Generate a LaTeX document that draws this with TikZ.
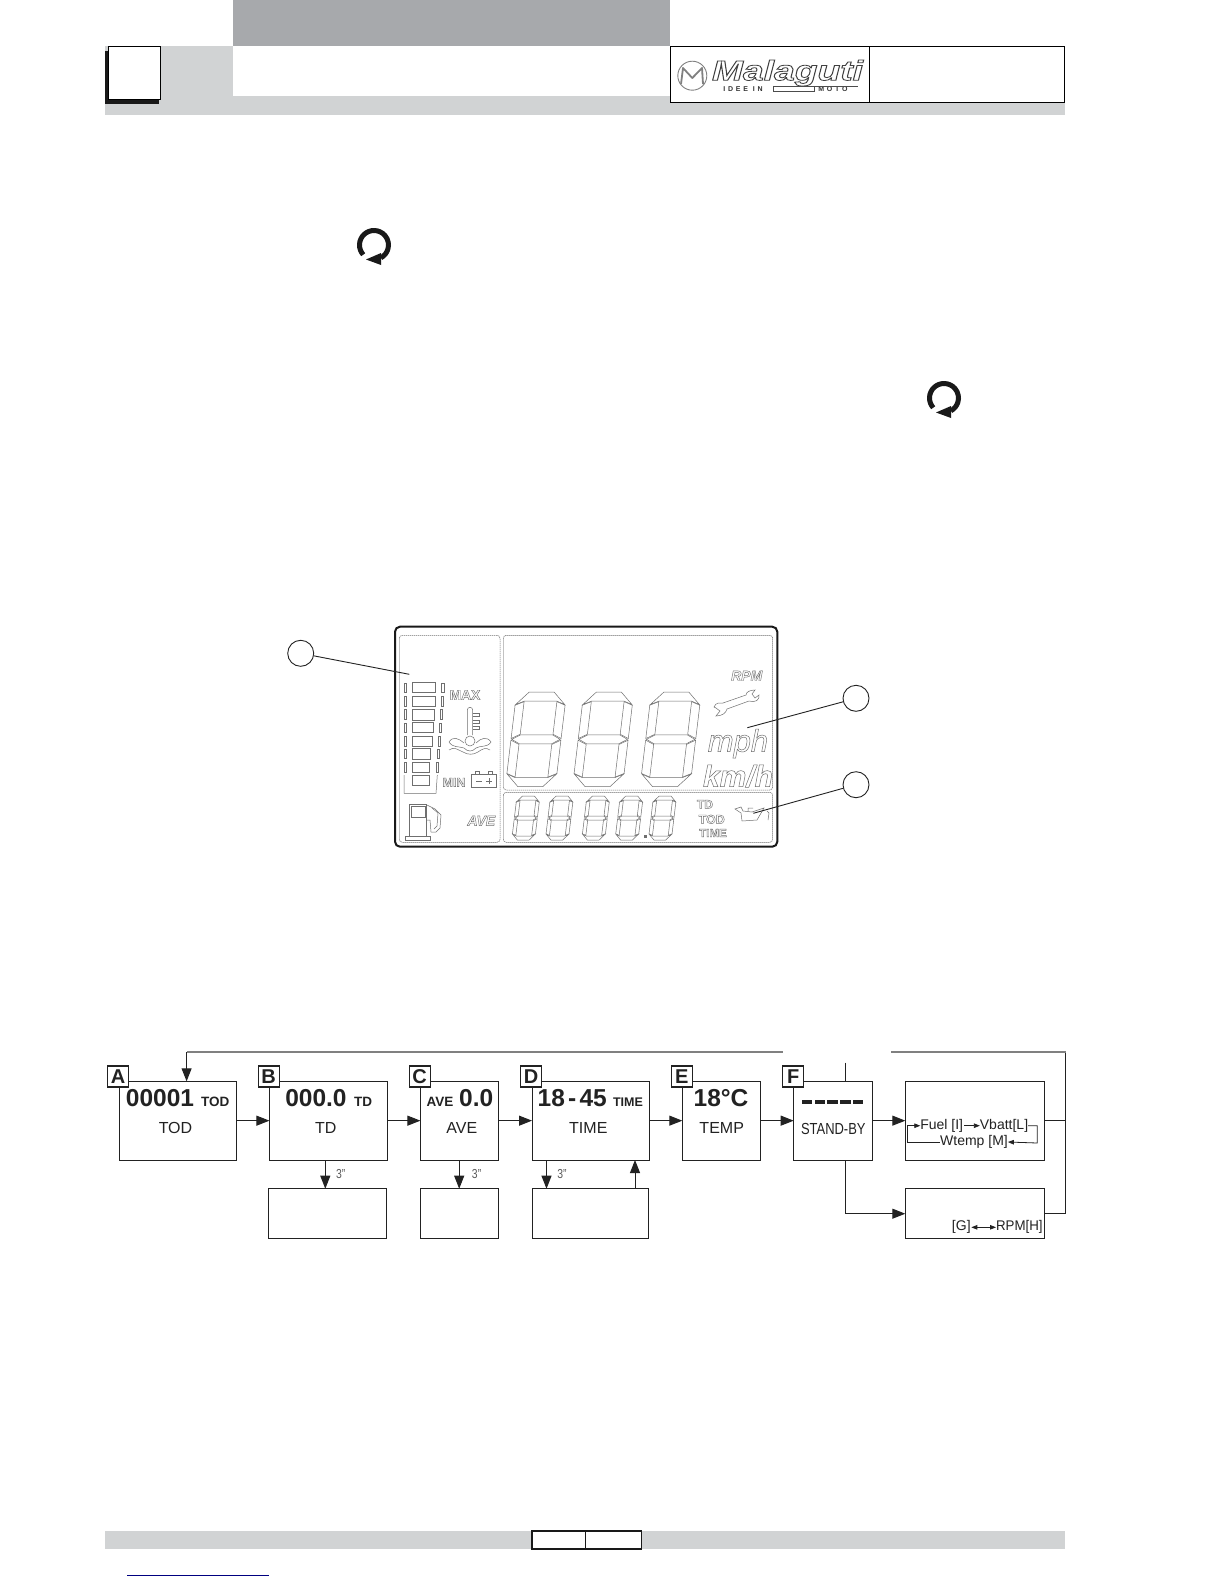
\documentclass[tikz,border=0pt]{standalone}
\usepackage{fontspec}
\setmainfont{Liberation Sans}
\usetikzlibrary{arrows.meta,calc}
\definecolor{hdark}{HTML}{A7A9AC}
\definecolor{hlight}{HTML}{D1D3D4}
\definecolor{ink}{HTML}{222222}
\definecolor{lcdline}{HTML}{6F6F6F}
\newcommand\fsz[1]{\fontsize{#1}{#1}\selectfont}
\newcommand\hollow[2][0.45]{\special{pdf:literal direct 1 Tr #1 w}#2\special{pdf:literal direct 0 Tr}}
\tikzset{
  flowbox/.style={draw=ink,line width=1pt,fill=white,inner sep=0pt,outer sep=0pt},
  tagbox/.style={draw=ink,line width=1.2pt,fill=white,inner sep=0pt,outer sep=0pt,minimum width=21pt,minimum height=21pt,font=\fsz{20}\bfseries,text=ink},
  conn/.style={draw=ink,line width=1pt,-{Triangle[length=13pt,width=10pt]}},
  plainconn/.style={draw=ink,line width=1pt},
  tinyconn/.style={draw=ink,line width=.8pt,-{Triangle[length=6pt,width=4.5pt]}},
  toprun/.style={draw=black!50,line width=1.8pt},
  bigval/.style={inner sep=0pt,outer sep=0pt,anchor=base west,font=\fsz{24.5}\bfseries,text=ink},
  smallval/.style={inner sep=0pt,outer sep=0pt,anchor=base west,font=\fsz{13.5}\bfseries,text=ink},
  boxname/.style={inner sep=0pt,outer sep=0pt,font=\fsz{16},text=ink},
  tinytxt/.style={inner sep=0pt,outer sep=0pt,font=\fsz{14},text=ink},
  secs/.style={inner sep=0pt,outer sep=0pt,font=\fsz{13},text=black!65,xscale=.8,transform shape},
  lcd/.style={draw=lcdline,line width=.5pt},
  lcdpanel/.style={draw=lcdline,line width=.5pt,dash pattern=on 1.4pt off .6pt,rounded corners=3pt},
  lcdtxt/.style={inner sep=0pt,outer sep=0pt,text=lcdline},
  callout/.style={draw=ink,line width=.9pt,fill=white,circle,inner sep=0pt,outer sep=0pt,minimum size=26pt},
  leader/.style={draw=ink,line width=.9pt},
}
\newcommand\lcddigit[5]{%
\begin{scope}[shift={(#1,#2)},xslant=.12,lcd]
\pgfmathsetmacro\W{#3}\pgfmathsetmacro\H{#4}\pgfmathsetmacro\T{#5}\pgfmathsetmacro\M{#4/2}\pgfmathsetmacro\C{1.4*#5}
\draw (\C,-\H)--(\W-\C,-\H)--(\W-.4,-\H+\C)--(\W-\T,-\H+\T)--(\T,-\H+\T)--(.4,-\H+\C)--cycle;
\draw (\C,0)--(\W-\C,0)--(\W-.4,-\C)--(\W-\T,-\T)--(\T,-\T)--(.4,-\C)--cycle;
\draw (.8,-\M)--(\T,-\M-.5*\T)--(\W-\T,-\M-.5*\T)--(\W-.8,-\M)--(\W-\T,-\M+.5*\T)--(\T,-\M+.5*\T)--cycle;
\draw (0,-\H+\C+.6)--(\T-.4,-\H+\T+.6)--(\T-.4,-\M-.5*\T-.6)--(0,-\M-.8)--cycle;
\draw (\W,-\H+\C+.6)--(\W-\T+.4,-\H+\T+.6)--(\W-\T+.4,-\M-.5*\T-.6)--(\W,-\M-.8)--cycle;
\draw (0,-\C-.6)--(\T-.4,-\T-.6)--(\T-.4,-\M+.5*\T+.6)--(0,-\M+.8)--cycle;
\draw (\W,-\C-.6)--(\W-\T+.4,-\T-.6)--(\W-\T+.4,-\M+.5*\T+.6)--(\W,-\M+.8)--cycle;
\end{scope}}
\newcommand\refreshicon[2]{%
\begin{scope}[shift={(#1,#2)},y=1pt]
\draw[line width=5pt,color=black!90] (222:14.5pt) arc[start angle=222,end angle=-62,radius=14.5pt];
\fill[black!90] (-8,-14.5) -- (7,-8) -- (7,-20) -- cycle;
\end{scope}}
\begin{document}
\begin{tikzpicture}[x=1pt,y=-1pt]
\useasboundingbox (0,0) rectangle (1224,1584);
\fill[white] (0,0) rectangle (1224,1584);
% header
\fill[hlight] (105.3,46) rectangle (1065,115);
\fill[hdark] (233,0) rectangle (669.7,46);
\fill[white] (233,46) rectangle (669.7,96);
\fill[black!90] (105.3,51) rectangle (159,104);
\draw[fill=white,draw=black,line width=.9pt] (108.5,46.3) rectangle (160.2,99.3);
\draw[fill=white,draw=black,line width=1.1pt] (670.3,46.3) rectangle (869.3,102.3);
\draw[fill=white,draw=black,line width=1.1pt] (869.3,46.3) rectangle (1064.5,102.3);
% logo
\draw[black!50,line width=.9pt] (692.3,75.7) circle[radius=14.5pt];
\draw[black!50,line width=1.8pt,line join=round] (681,84) -- (683,68) -- (692.3,78) -- (702,68) -- (703,84);
\node[inner sep=0pt,outer sep=0pt,font=\fsz{28}\bfseries\itshape,text=black!75,xscale=1.33,transform shape] (logotext) at (787.5,73) {\hollow[0.8]{Malaguti}};
\node[inner sep=0pt,outer sep=0pt,anchor=west,font=\fsz{7}\bfseries,text=black!80] (logoidee) at (723.3,89.5) {\addfontfeature{LetterSpace=40}IDEE IN};
\node[inner sep=0pt,outer sep=0pt,anchor=west,font=\fsz{7}\bfseries,text=black!80] (logomoto) at (818.3,89.5) {\addfontfeature{LetterSpace=40}MOTO};
\draw[black!70,line width=.6pt] (773,86) -- (858,86) (773,86) -- (773,91.5) -- (814,91.5) -- (814,86);
% refresh icons
\refreshicon{374}{245}
\refreshicon{944}{398}
% LCD
\draw[draw=black!90,line width=2pt,rounded corners=5pt] (395,626.7) rectangle (777.3,846.7);
\draw[lcdpanel] (399.3,635.3) rectangle (500,842.3);
\draw[lcdpanel] (503.3,635.3) rectangle (772.7,790);
\draw[lcdpanel] (503.3,792.3) rectangle (772.7,842.3);
\lcddigit{505.3}{786.7}{50}{94.7}{9}
\lcddigit{572.5}{786.7}{50}{94.7}{9}
\lcddigit{640}{786.7}{50}{94.7}{9}
\lcddigit{511.7}{840}{23}{44}{4}
\lcddigit{545.3}{840}{23}{44}{4}
\lcddigit{581.7}{840}{23}{44}{4}
\lcddigit{615}{840}{23}{44}{4}
\lcddigit{648.3}{840}{23}{44}{4}
\fill[lcdline] (643.5,834.5) rectangle (646.5,838);
% bar graph
\draw[lcd] (412,682.7) rectangle (435.7,692.7) (412,696) rectangle (435,706.7) (412,709.3) rectangle (434,720)
 (412,722.7) rectangle (433,732.7) (412,736) rectangle (432,746) (412,748.7) rectangle (430.7,759)
 (412,762) rectangle (429.7,772.3) (412,775) rectangle (429,785.7);
\draw[lcd] (404,683) rectangle (406,692) (404,696) rectangle (406,706) (404,709.5) rectangle (406,719.5)
 (404,723) rectangle (406,732.5) (404,736) rectangle (406,746) (404,749) rectangle (406,758.5) (404,762) rectangle (406,772);
\draw[lcd] (441.5,683) rectangle (444,692) (441,696) rectangle (443,706) (440,709.5) rectangle (442,719.5)
 (439.5,723) rectangle (441.5,732.5) (438.5,736) rectangle (440.5,746) (437.5,749) rectangle (439.5,758.5) (436.5,762) rectangle (438.5,772);
\draw[lcd] (404,775) -- (404,793.3) -- (436,793.3) -- (437.3,775);
\node[lcdtxt,font=\fsz{13.8}\bfseries] (lmax) at (465,695) {\hollow{MAX}};
\node[lcdtxt,font=\fsz{12.5}\bfseries] (lmin) at (454,782.3) {\hollow{MIN}};
\node[lcdtxt,font=\fsz{14}\bfseries\itshape] (lave) at (481.3,820.7) {\hollow{AVE}};
% thermometer and waves
\draw[lcd] (467.3,735) -- (467.3,710) arc[start angle=180,end angle=0,radius=2.7pt] -- (472.7,735);
\draw[lcd] (472.7,713) -- (479,713) -- (479,716) -- (472.7,716) (472.7,720) -- (479,720) -- (479,723) -- (472.7,723) (472.7,726) -- (479,726) -- (479,729) -- (472.7,729);
\draw[lcd] (470,741) circle[radius=5pt];
\draw[lcd] (449,742) .. controls (453,736) and (458,738) .. (464,743) (449,742) .. controls (453,748) and (458,746) .. (464,748) .. controls (468,752) and (472,752) .. (476,748) .. controls (481,745) and (487,748) .. (491,742) .. controls (487,736) and (481,738) .. (476,743);
\draw[lcd] (449,750) .. controls (454,746) and (458,750) .. (463,752) .. controls (468,755) and (473,755) .. (478,752) .. controls (482,749) and (486,747) .. (490,750);
% battery
\draw[lcd] (471.7,774) rectangle (496.7,787.7);
\draw[lcd] (475,774) -- (475,771.7) -- (479,771.7) -- (479,774) (488,774) -- (488,771.7) -- (492,771.7) -- (492,774);
\draw[lcd] (476,781) -- (482,781) (486,781) -- (492,781) (489,778) -- (489,784);
% fuel pump
\draw[lcd] (409.3,836.7) -- (409.3,804) -- (426.7,804) -- (426.7,836.7);
\draw[lcd] (411,806) rectangle (425,817);
\draw[lcd] (405,840) rectangle (430,836.7);
\draw[lcd] (427,805) -- (435,809) -- (441,815) -- (440,828) -- (436,832) -- (431,832) -- (430,820) -- (427,820);
\draw[lcd] (432,808) -- (438,813) -- (437,826) -- (434,829);
% right side symbols
\node[lcdtxt,font=\fsz{14}\bfseries\itshape] (lrpm) at (746.7,675.7) {\hollow{RPM}};
\draw[lcd] (714,707) .. controls (716,702) and (720,703) .. (723,703) -- (746,695) .. controls (746,692) and (750,690) .. (755,690) -- (752,694) -- (755,698) -- (759,695) .. controls (760,700) and (755,703) .. (749,701) -- (727,709) .. controls (726,713) and (722,716) .. (716,716) -- (720,711) -- (716,708) -- cycle;
\node[lcdtxt,anchor=base,font=\fsz{31}\itshape] (lmph) at (738,751.7) {\hollow[0.5]{mph}};
\node[lcdtxt,anchor=base,font=\fsz{30}\itshape\bfseries] (lkmh) at (738,786.7) {\hollow[0.5]{km/h}};
\node[lcdtxt,font=\fsz{12}\bfseries] (ltd) at (705,804.3) {\hollow{TD}};
\node[lcdtxt,font=\fsz{12.5}\bfseries] (ltod) at (711.7,819.3) {\hollow{TOD}};
\node[lcdtxt,font=\fsz{11.5}\bfseries] (ltime) at (713,833) {\hollow{TIME}};
\draw[lcd] (735,809) -- (741,807) -- (743,811) -- (752,812) -- (764,808) -- (757,820) -- (742,821) -- (741,813) -- cycle;
\draw[lcd] (748,811) -- (748,808) -- (753,808) (767,811) -- (769,813) -- (768,820);
% callouts
\node[callout] (c1) at (300.7,653.3) {};
\node[callout] (c2) at (856,698.3) {};
\node[callout] (c3) at (856,784.7) {};
\coordinate (c1end) at (409.3,674.3);
\coordinate (c2end) at (747.3,727.7);
\coordinate (c3end) at (753.3,813.3);
\draw[leader] (c1) -- (c1end);
\draw[leader] (c2) -- (c2end);
\draw[leader] (c3) -- (c3end);
% flow boxes
\def\tr{1120.65}
\node[flowbox,minimum width=117.3pt,minimum height=78.7pt] (a) at (177.85,\tr) {};
\node[flowbox,minimum width=117.6pt,minimum height=78.7pt] (b) at (328.2,\tr) {};
\node[flowbox,minimum width=78.4pt,minimum height=78.7pt] (c) at (459.6,\tr) {};
\node[flowbox,minimum width=117.4pt,minimum height=78.7pt] (d) at (590.7,\tr) {};
\node[flowbox,minimum width=78pt,minimum height=78.7pt] (e) at (721.3,\tr) {};
\node[flowbox,minimum width=78.3pt,minimum height=78.7pt] (f) at (832.85,\tr) {};
\node[flowbox,minimum width=138.7pt,minimum height=78.7pt] (g) at (974.65,\tr) {};
\def\lr{1213.7}
\node[flowbox,minimum width=117.7pt,minimum height=50pt] (bl) at (327.15,\lr) {};
\node[flowbox,minimum width=78pt,minimum height=50pt] (cl) at (459.4,\lr) {};
\node[flowbox,minimum width=115.8pt,minimum height=50pt] (dl) at (590.7,\lr) {};
\node[flowbox,minimum width=138.7pt,minimum height=50pt] (h) at (974.65,\lr) {};
% tags
\node[tagbox] (ta) at (118.2,1076.5) {A};
\node[tagbox] (tb) at (268.7,1076.5) {B};
\node[tagbox] (tc) at (419.7,1076.5) {C};
\node[tagbox] (td) at (531,1076.5) {D};
\node[tagbox] (te) at (681.7,1076.5) {E};
\node[tagbox] (tf) at (793.2,1076.5) {F};
% texts
\node[bigval] (va) at (125.9,1106) {00001};
\node[smallval] (vas) at (201,1106) {TOD};
\node[bigval] (vb) at (285.3,1106) {000.0};
\node[smallval] (vbs) at (354,1106) {TD};
\node[smallval] (vcs) at (426.7,1106) {AVE};
\node[bigval] (vc) at (459.2,1106) {0.0};
\node[bigval] (vd) at (537.7,1106) {18\hspace{3.2pt}-\hspace{3.2pt}45};
\node[smallval,font=\fsz{12.5}\bfseries] (vds) at (613,1106) {TIME};
\node[bigval,anchor=base] (ve) at (721,1106) {18°C};
\node[boxname] (na) at (175.5,1128.3) {TOD};
\node[boxname] (nb) at (325.7,1128.3) {TD};
\node[boxname] (nc) at (461.8,1128.3) {AVE};
\node[boxname] (nd) at (588.3,1128.3) {TIME};
\node[boxname] (ne) at (721.7,1128.3) {TEMP};
\node[boxname,xscale=.81,transform shape] (nf) at (833.3,1128.7) {STAND-BY};
\foreach \i in {0,1,2,3,4} \fill[ink] ({802+\i*12.7},1100.3) rectangle ({802+\i*12.7+10.4},1103.7);
\node[secs] (s1) at (340.8,1174.3) {3''};
\node[secs] (s2) at (476.6,1174.3) {3''};
\node[secs] (s3) at (562,1174.3) {3''};
% flow connectors
\draw[conn] (a.east) -- (b.west);
\draw[conn] (b.east) -- (c.west);
\draw[conn] (c.east) -- (d.west);
\draw[conn] (d.east) -- (e.west);
\draw[conn] (e.east) -- (f.west);
\draw[conn] (f.east) -- (g.west);
\coordinate (xb) at (325.3,1174);
\coordinate (xc) at (459.2,1174);
\coordinate (xd) at (546.5,1174);
\coordinate (xu) at (635,1174);
\draw[conn] (xb |- b.south) -- (xb |- bl.north);
\draw[conn] (xc |- c.south) -- (xc |- cl.north);
\draw[conn] (xd |- d.south) -- (xd |- dl.north);
\draw[conn] (xu |- dl.north) -- (xu |- d.south);
\coordinate (xf) at (845.7,1062.7);
\draw[plainconn] (xf) -- (xf |- f.north);
\draw[conn] (xf |- f.south) -- (xf |- h.west) -- (h.west);
\coordinate (xr) at (1065.7,1052);
\draw[plainconn] (g.east) -- (xr |- g.east);
\draw[plainconn] (h.east) -- (xr |- h.east) -- (xr);
\draw[toprun] (xr) -- (890.7,1052);
\coordinate (xa) at (186.6,1052);
\coordinate (xgap) at (782.7,1052);
\draw[toprun] (xgap) -- (xa);
\draw[conn] (xa) -- (xa |- a.north);
% inner texts of right boxes
\node[tinytxt] (fu) at (941.7,1125.7) {Fuel [I]};
\node[tinytxt] (vb2) at (1004,1125.7) {Vbatt[L]};
\node[tinytxt] (wt) at (974,1142) {Wtemp [M]};
\node[tinytxt] (gg) at (961.3,1227.3) {[G]};
\node[tinytxt,xscale=.95,transform shape] (rp) at (1019.3,1227.3) {RPM[H]};
\draw[tinyconn] (fu.east) ++(1,0) -- (vb2.west);
\draw[tinyconn] (vb2.east) -- (1037.3,1125.7) -- (1037.3,1143) -- (wt.east);
\draw[tinyconn] (wt.west) -- (907.3,1142) -- (907.3,1125.7) -- (fu.west);
\draw[tinyconn,{Triangle[length=6pt,width=4.5pt]}-{Triangle[length=6pt,width=4.5pt]}] (gg) ++(10,0) -- (rp.west);
% footer
\fill[hlight] (105.3,1531) rectangle (1065,1549);
\draw[fill=white,draw=black!90,line width=1.1pt] (532,1531) rectangle (585.6,1549);
\draw[fill=white,draw=black!90,line width=1.1pt] (585.6,1531) rectangle (641.7,1549);
\draw[draw=blue!50!black,line width=1.2pt] (127,1575.3) -- (269.2,1575.3);
\end{tikzpicture}
\end{document}
